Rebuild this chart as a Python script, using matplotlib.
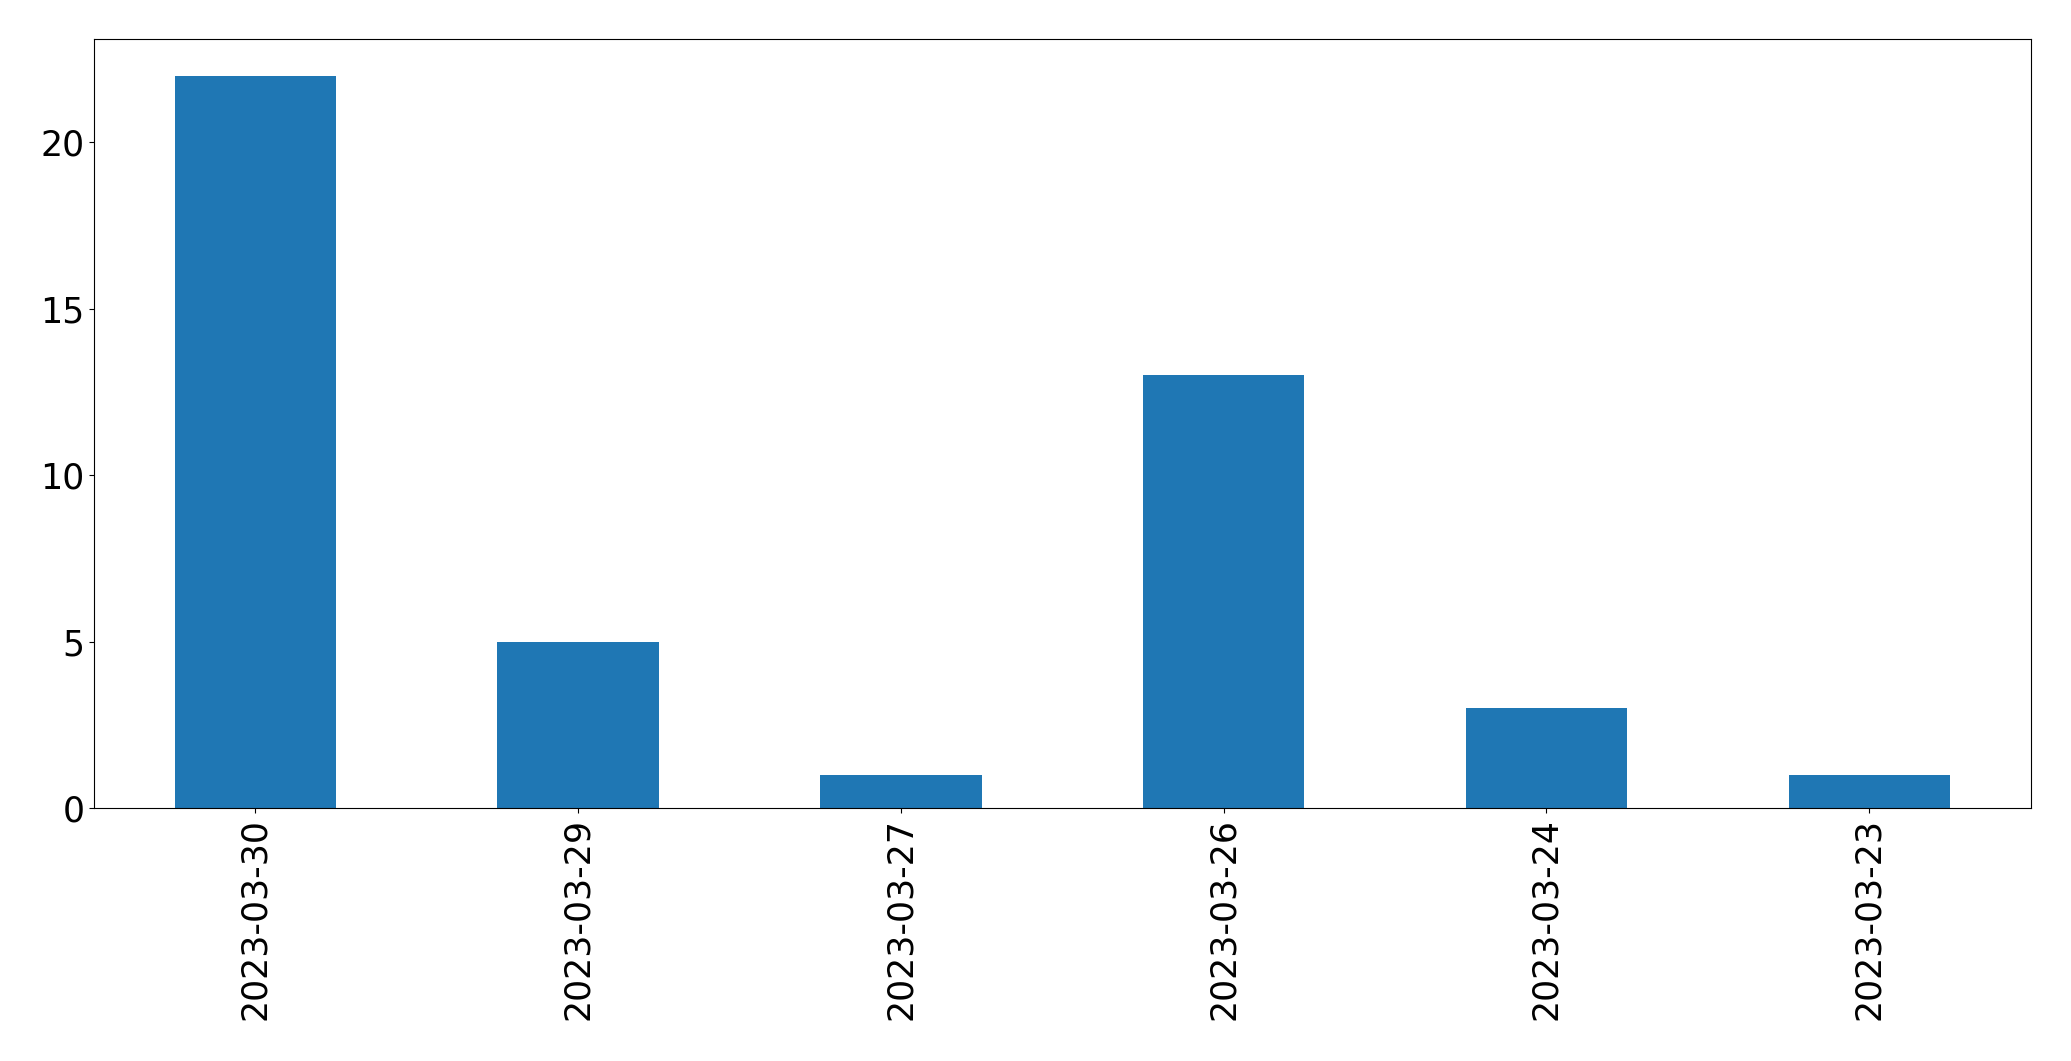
import matplotlib
matplotlib.use('Agg')
import matplotlib.pyplot as plt
import pandas as pd

dates = ['2023-03-30', '2023-03-29', '2023-03-27', '2023-03-26', '2023-03-24', '2023-03-23']
counts = [22, 5, 1, 13, 3, 1]

series = pd.Series(counts, index=dates)

fig, ax = plt.subplots(figsize=(20.71, 10.61), dpi=100)
series.plot(kind='bar', ax=ax, color='#1f77b4', fontsize=25)
ax.set_yticks([0, 5, 10, 15, 20])
plt.subplots_adjust(left=0.0454, right=0.9805, top=0.963, bottom=0.2385)
fig.savefig('out.png', dpi=100)
